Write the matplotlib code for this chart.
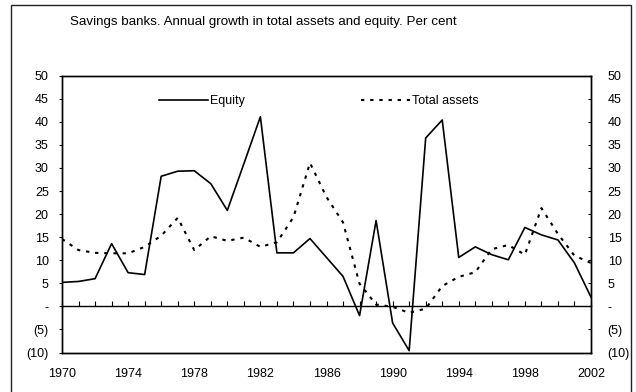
import numpy as np
import matplotlib
matplotlib.use("Agg")
import matplotlib.pyplot as plt
from matplotlib.patches import Rectangle

plt.rcParams['font.family'] = ['Liberation Sans', 'DejaVu Sans']
plt.rcParams['font.size'] = 9

years = np.arange(1970, 2003)
equity = [5.2, 5.4, 6.0, 13.6, 7.3, 6.9, 28.2, 29.3, 29.4, 26.6, 20.8, 30.9, 41.1,
          11.6, 11.6, 14.7, 10.6, 6.5, -2.0, 18.6, -3.6, -9.6, 36.5, 40.4,
          10.6, 12.9, 11.2, 10.1, 17.1, 15.5, 14.4, 9.4, 2.0]
total_assets = [14.6, 12.2, 11.6, 11.5, 11.5, 12.9, 15.3, 19.2, 12.2, 15.2, 14.2, 14.9, 12.9,
                13.9, 19.3, 31.1, 23.7, 18.2, 4.9, 0.4, -0.1, -1.4, -0.5, 4.4,
                6.4, 7.4, 12.4, 13.3, 11.2, 21.3, 15.7, 11.0, 9.4]
ytick_vals = [-10, -5, 0, 5, 10, 15, 20, 25, 30, 35, 40, 45, 50]
ytick_labels = ['(10)', '(5)', '-', '5', '10', '15', '20', '25', '30', '35', '40', '45', '50']
xtick_vals = [1970, 1974, 1978, 1982, 1986, 1990, 1994, 1998, 2002]

fig = plt.figure(figsize=(6.36, 3.92), dpi=100)
ax = fig.add_axes([62 / 636, 1 - 352.5 / 392, 529 / 636, 276.8 / 392])

# outer frame round the whole chart
fig.patches.append(Rectangle((11 / 636, -0.05), 620 / 636, 1 - 5 / 392 + 0.05,
                             transform=fig.transFigure, fill=False,
                             edgecolor='#222222', linewidth=1.0))

fig.text(70 / 636, 1 - 22 / 392, 'Savings banks. Annual growth in total assets and equity. Per cent',
         ha='left', va='center', fontsize=9.6)

ax.plot(years, equity, color='black', lw=1.2, label='Equity')
ax.plot(years, total_assets, color='black', lw=1.5, linestyle=(0, (1.6, 2.8)),
        label='Total assets')

ax.set_xlim(1970, 2002)
ax.set_ylim(-10, 50)
ax.set_yticks(ytick_vals)
ax.set_yticklabels(ytick_labels)
ax.tick_params(axis='y', length=2.5, direction='out', pad=7, labelsize=9)
ax.set_xticks(xtick_vals)
ax.tick_params(axis='x', length=0, pad=11, labelsize=9)

ax_r = ax.twinx()
ax_r.set_ylim(-10, 50)
ax_r.set_yticks(ytick_vals)
ax_r.set_yticklabels(ytick_labels)
ax_r.tick_params(axis='y', length=2.5, direction='in', pad=12, labelsize=9)

# zero line with yearly tick marks pointing up
zero_ax = ax.secondary_xaxis(10 / 60)
zero_ax.set_xticks(years)
zero_ax.tick_params(axis='x', direction='in', length=3.5, labelbottom=False, width=0.8)
zero_ax.spines['bottom'].set_linewidth(1.0)

for a in (ax, ax_r):
    for s in a.spines.values():
        s.set_linewidth(1.0)

leg = ax.legend(loc='center left', bbox_to_anchor=((159 - 62) / 529, (352.5 - 101) / 276.8),
                ncol=2, frameon=False, handlelength=3.9, handletextpad=0.15,
                columnspacing=9.35, borderpad=0, borderaxespad=0, fontsize=9)

fig.savefig('out.png', dpi=100)
